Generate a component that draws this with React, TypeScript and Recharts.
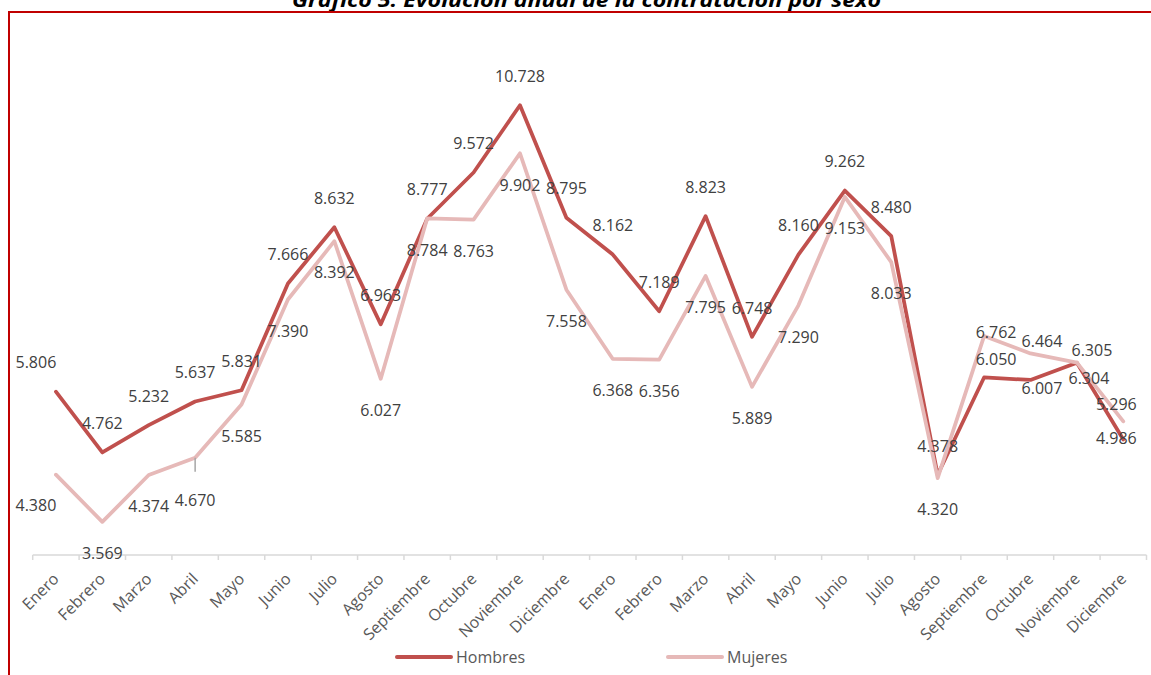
import React from 'react';
import { LineChart, Line, XAxis, YAxis, LabelList, Legend } from 'recharts';

// ---------- data ----------
const MONTHS = [
  'Enero', 'Febrero', 'Marzo', 'Abril', 'Mayo', 'Junio', 'Julio', 'Agosto',
  'Septiembre', 'Octubre', 'Noviembre', 'Diciembre',
  'Enero', 'Febrero', 'Marzo', 'Abril', 'Mayo', 'Junio', 'Julio', 'Agosto',
  'Septiembre', 'Octubre', 'Noviembre', 'Diciembre',
];
const HOMBRES = [
  5806, 4762, 5232, 5637, 5831, 7666, 8632, 6963, 8777, 9572, 10728, 8795,
  8162, 7189, 8823, 6748, 8160, 9262, 8480, 4378, 6050, 6007, 6304, 4986,
];
const MUJERES = [
  4380, 3569, 4374, 4670, 5585, 7390, 8392, 6027, 8784, 8763, 9902, 7558,
  6368, 6356, 7795, 5889, 7290, 9153, 8033, 4320, 6762, 6464, 6305, 5296,
];
const Y_DOMAIN: [number, number] = [3000, 12000];
const TITLE = 'Gráfico 5. Evolución anual de la contratación por sexo';
const SERIES = [
  { key: 'hombres', name: 'Hombres', color: '#C0504D' },
  { key: 'mujeres', name: 'Mujeres', color: '#E6B9B8' },
];

const data = MONTHS.map((m, i) => ({ idx: i, mes: m, hombres: HOMBRES[i], mujeres: MUJERES[i] }));

// ---------- layout / style ----------
const W = 1151;
const H = 675;
const PLOT_LEFT = 32.7;
const PLOT_RIGHT = 1146.5;
const PLOT_TOP = 31.2;
const AXIS_Y = 555;
const LEGEND_H = 40;
const XAXIS_H = H - AXIS_Y - LEGEND_H;
const BAND = (PLOT_RIGHT - PLOT_LEFT) / MONTHS.length;
const FONT = '"Open Sans", "Noto Sans", sans-serif';
const LABEL_COLOR = '#404040';
const AXIS_TEXT = '#595959';
const AXIS_LINE = '#D9D9D9';

// label offsets (label centre relative to point)
const DEFAULT_OFFSET: Record<string, [number, number]> = { hombres: [0, -29], mujeres: [0, 31.5] };
const LABEL_OFFSETS: Record<string, Record<number, [number, number]>> = {
  hombres: { 0: [-20, -29], 20: [12, -18.5], 21: [11.5, 8], 22: [12, 16], 23: [-7, -1.5] },
  mujeres: { 0: [-20, 31], 3: [0, 42], 20: [12, -4], 21: [11.5, -12.5], 22: [15, -12], 23: [-7, -17] },
};
// labels that Excel drew with a leader line
const LEADERS: Record<string, number[]> = { hombres: [], mujeres: [3] };

const fmt = (v: number) => `${Math.floor(v / 1000)}.${String(v % 1000).padStart(3, '0')}`;

const makeLabel = (key: string) => (props: any) => {
  const { x, y, value, index } = props;
  if (value == null) return null;
  const [dx, dy] = LABEL_OFFSETS[key][index] ?? DEFAULT_OFFSET[key];
  return (
    <g>
      {LEADERS[key].includes(index) && (
        <line x1={x} x2={x} y1={y} y2={y + 14} stroke="#A6A6A6" strokeWidth={1.5} />
      )}
      <text
        x={x + dx}
        y={y + dy + 5.7}
        textAnchor="middle"
        fill={LABEL_COLOR}
        fontSize={16}
        fontFamily={FONT}
      >
        {fmt(Number(value))}
      </text>
    </g>
  );
};

const MonthTick = (props: any) => {
  const { x, y, payload } = props;
  const i = Number(payload.value);
  const tx = x + 4;
  const ty = y + 25;
  return (
    <g>
      <line x1={x - BAND / 2} x2={x - BAND / 2} y1={y} y2={y + 5} stroke={AXIS_LINE} strokeWidth={1.5} />
      {i === MONTHS.length - 1 && (
        <line x1={x + BAND / 2} x2={x + BAND / 2} y1={y} y2={y + 5} stroke={AXIS_LINE} strokeWidth={1.5} />
      )}
      <text
        x={tx}
        y={ty}
        transform={`rotate(-45, ${tx}, ${ty})`}
        textAnchor="end"
        fill={AXIS_TEXT}
        fontSize={16}
        fontFamily={FONT}
      >
        {MONTHS[i]}
      </text>
    </g>
  );
};

const LEGEND_POS: Record<string, number> = { hombres: 397, mujeres: 668 };

const LegendContent = () => (
  <svg width={W} height={LEGEND_H} style={{ display: 'block' }}>
    {SERIES.map((s) => (
      <g key={s.key}>
        <line
          x1={LEGEND_POS[s.key]}
          x2={LEGEND_POS[s.key] + 54}
          y1={22}
          y2={22}
          stroke={s.color}
          strokeWidth={4}
          strokeLinecap="round"
        />
        <text x={LEGEND_POS[s.key] + 59} y={27.7} fill={AXIS_TEXT} fontSize={16} fontFamily={FONT}>
          {s.name}
        </text>
      </g>
    ))}
  </svg>
);

export default function App() {
  return (
    <div
      style={{
        position: 'absolute',
        left: 0,
        top: 0,
        width: W,
        height: H,
        overflow: 'hidden',
        background: '#fff',
      }}
    >
      <LineChart
        width={W}
        height={H}
        data={data}
        margin={{ top: PLOT_TOP, right: W - PLOT_RIGHT, left: PLOT_LEFT, bottom: 0 }}
      >
        <XAxis
          dataKey="idx"
          type="category"
          scale="band"
          interval={0}
          height={XAXIS_H}
          tickSize={0}
          tickMargin={0}
          tickLine={false}
          axisLine={{ stroke: AXIS_LINE, strokeWidth: 1.5 }}
          tick={<MonthTick />}
        />
        <YAxis hide type="number" domain={Y_DOMAIN} />
        <Legend
          verticalAlign="bottom"
          height={LEGEND_H}
          wrapperStyle={{ left: 0, width: W, bottom: 0, height: LEGEND_H }}
          content={<LegendContent />}
        />
        {/* labels first so the lines are drawn over them */}
        {SERIES.map((s) => (
          <Line
            key={`lbl-${s.key}`}
            dataKey={s.key}
            stroke="none"
            dot={false}
            activeDot={false}
            legendType="none"
            isAnimationActive={false}
          >
            <LabelList dataKey={s.key} content={makeLabel(s.key)} />
          </Line>
        ))}
        {SERIES.map((s) => (
          <Line
            key={s.key}
            name={s.name}
            dataKey={s.key}
            type="linear"
            stroke={s.color}
            strokeWidth={3.75}
            strokeLinecap="round"
            strokeLinejoin="round"
            dot={false}
            activeDot={false}
            isAnimationActive={false}
          />
        ))}
      </LineChart>
      <svg
        width={W}
        height={H}
        style={{ position: 'absolute', left: 0, top: 0, pointerEvents: 'none' }}
      >
        <text
          x={292}
          y={7}
          textLength={589}
          lengthAdjust="spacingAndGlyphs"
          fontSize={20}
          fontWeight="bold"
          fontStyle="italic"
          fontFamily={FONT}
          fill="#000"
        >
          {TITLE}
        </text>
        <path d={`M9,${H + 5} V12 H${W + 5}`} fill="none" stroke="#C00000" strokeWidth={2} />
      </svg>
    </div>
  );
}
